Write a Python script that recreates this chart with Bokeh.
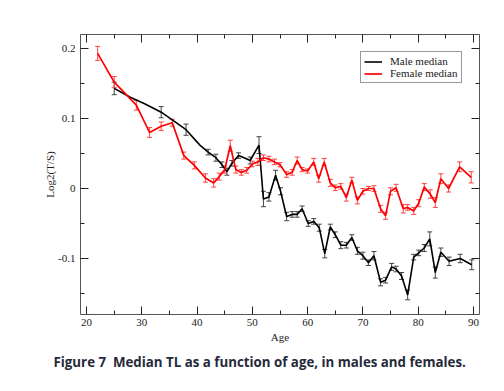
from bokeh.plotting import figure
from bokeh.models import (Range1d, FixedTicker, LinearAxis, CustomJSTickFormatter,
                          ColumnDataSource, Whisker, TeeHead, Legend, LegendItem, Title)
from bokeh.embed import file_html
from bokeh.resources import INLINE

# ---- data ----
male_age = [25, 28, 30.5, 33.5, 35.5, 38, 40.5, 42, 43.4, 44.5, 45.4, 46.3, 47.5, 48.5, 49.6,
            51.2, 52, 53, 54.2, 55.1, 56.2, 57.2, 58.1, 59, 60.1, 61.1, 62.1, 63.1, 64.1, 65,
            66, 67, 68, 69, 70, 71, 72, 73.2, 74.1, 75.2, 76, 77, 78.1, 79.2, 80.1, 81.1, 82.1,
            83.1, 84.1, 85.6, 87.6, 89.7]
male_med = [0.143, 0.130, 0.121, 0.109, 0.098, 0.084, 0.062, 0.052, 0.044, 0.034, 0.024, 0.036,
            0.047, 0.044, 0.040, 0.062, -0.015, -0.012, 0.019, -0.004, -0.040, -0.037, -0.037,
            -0.029, -0.050, -0.047, -0.056, -0.093, -0.055, -0.066, -0.081, -0.081, -0.070,
            -0.089, -0.096, -0.106, -0.096, -0.134, -0.131, -0.112, -0.115, -0.125, -0.152,
            -0.098, -0.092, -0.085, -0.072, -0.120, -0.091, -0.104, -0.100, -0.109]
male_err = [0.009, 0, 0, 0.008, 0, 0.008, 0, 0.004, 0.005, 0.004, 0.005, 0.004, 0.004, 0, 0.005,
            0.012, 0.011, 0.006, 0.007, 0.005, 0.006, 0.004, 0.004, 0.004, 0.004, 0.004, 0.005,
            0.006, 0.004, 0.004, 0.005, 0.004, 0.004, 0.005, 0.005, 0.004, 0.006, 0.005, 0.004,
            0.005, 0.004, 0.005, 0.007, 0.004, 0.004, 0.005, 0.010, 0.008, 0.006, 0.006, 0.006,
            0.007]

female_age = [22, 25, 29, 31.4, 33.5, 35.5, 37.6, 39.5, 41.5, 43, 44, 45, 46, 47, 48, 49, 50,
              51, 52, 53, 54, 55, 56.2, 57.2, 58.1, 59, 60, 61.1, 62, 63, 64.1, 65, 66, 67, 68,
              69, 70, 71, 72, 73.2, 74.1, 75, 76, 77.3, 78.1, 79.2, 80.1, 81.1, 82.2, 83.1, 84.1,
              85.5, 87.5, 89.6]
female_med = [0.193, 0.152, 0.119, 0.080, 0.089, 0.094, 0.047, 0.033, 0.015, 0.008, 0.017, 0.027,
              0.061, 0.027, 0.023, 0.026, 0.035, 0.038, 0.044, 0.042, 0.038, 0.034, 0.020, 0.023,
              0.040, 0.027, 0.025, 0.038, 0.014, 0.038, 0.008, 0.001, 0.003, -0.013, 0.012,
              -0.017, -0.004, 0.0, 0.0, -0.029, -0.039, -0.004, 0.001, -0.029, -0.027, -0.032,
              -0.021, 0.002, -0.008, -0.020, 0.014, 0.0, 0.031, 0.016]
female_err = [0.010, 0.008, 0.007, 0.007, 0.006, 0.005, 0.005, 0.005, 0.006, 0.006, 0.005, 0.005,
              0.008, 0.005, 0.004, 0.004, 0.004, 0.005, 0.004, 0.004, 0.004, 0.003, 0.004, 0.004,
              0.005, 0.003, 0.003, 0.005, 0.005, 0.005, 0.005, 0.004, 0.004, 0.005, 0.004, 0.005,
              0.004, 0.003, 0.004, 0.005, 0.005, 0.005, 0.005, 0.006, 0.004, 0.005, 0.005, 0.005,
              0.006, 0.007, 0.007, 0.005, 0.007, 0.008]

x_major = [20, 30, 40, 50, 60, 70, 80, 90]
x_minor = [25, 35, 45, 55, 65, 75, 85]
y_major = [-0.1, 0, 0.1, 0.2]
y_minor = [-0.15, -0.05, 0.05, 0.15]

x_title = "Age"
y_title = "Log2(T/S)"
caption = "Figure 7\u00a0 Median TL as a function of age, in males and females."
male_label = "Male median"
female_label = "Female median"

SERIF = "'Liberation Serif', 'Times New Roman', serif"

p = figure(width=488, height=375, output_backend="svg", toolbar_location=None,
           x_range=Range1d(18.9, 91.1), y_range=Range1d(-0.18, 0.22),
           x_axis_location=None, y_axis_location=None,
           min_border_left=80, min_border_right=9, min_border_top=34, min_border_bottom=61)
p.grid.visible = False
p.outline_line_color = "#555555"
p.outline_line_width = 1
p.background_fill_color = "white"
p.border_fill_color = "white"

xt = FixedTicker(ticks=x_major, minor_ticks=x_minor)
yt = FixedTicker(ticks=y_major, minor_ticks=y_minor)
yfmt = CustomJSTickFormatter(code="return Math.abs(tick) < 1e-9 ? '0' : tick.toFixed(1);")
blank = CustomJSTickFormatter(code="return '';")


def style(ax):
    ax.axis_line_color = None
    ax.major_tick_in = 8
    ax.major_tick_out = 0
    ax.minor_tick_in = 4
    ax.minor_tick_out = 0
    ax.major_tick_line_color = "#222222"
    ax.minor_tick_line_color = "#222222"
    ax.major_label_text_font = SERIF
    ax.major_label_text_font_size = "11px"
    ax.major_label_text_color = "#222222"
    ax.axis_label_text_font = SERIF
    ax.axis_label_text_font_size = "11px"
    ax.axis_label_text_font_style = "normal"
    ax.axis_label_text_color = "#222222"


xb = LinearAxis(ticker=xt, axis_label=x_title, major_label_standoff=4, axis_label_standoff=2)
style(xb)
p.add_layout(xb, "below")
xa = LinearAxis(ticker=xt, formatter=blank, major_label_standoff=0)
style(xa)
p.add_layout(xa, "above")
yl = LinearAxis(ticker=yt, formatter=yfmt, axis_label=y_title, major_label_standoff=5,
                axis_label_standoff=-1)
style(yl)
p.add_layout(yl, "left")
yr = LinearAxis(ticker=yt, formatter=blank, major_label_standoff=0)
style(yr)
p.add_layout(yr, "right")


def add_series(ages, meds, errs, color, bar_color, width):
    src = ColumnDataSource(dict(x=ages, y=meds))
    r = p.line("x", "y", source=src, line_color=color, line_width=width)
    bx = [a for a, e in zip(ages, errs) if e > 0]
    lo = [m - e for m, e in zip(meds, errs) if e > 0]
    hi = [m + e for m, e in zip(meds, errs) if e > 0]
    esrc = ColumnDataSource(dict(x=bx, lo=lo, hi=hi))
    w = Whisker(source=esrc, base="x", lower="lo", upper="hi", dimension="height",
                line_color=bar_color, line_width=1,
                upper_head=TeeHead(size=5, line_color=bar_color, line_width=1),
                lower_head=TeeHead(size=5, line_color=bar_color, line_width=1))
    p.add_layout(w)
    return r


r_male = add_series(male_age, male_med, male_err, "black", "#444444", 1.6)
r_female = add_series(female_age, female_med, female_err, "#ff0000", "#ff4444", 1.7)

legend = Legend(items=[LegendItem(label=male_label, renderers=[r_male]),
                       LegendItem(label=female_label, renderers=[r_female])],
                location=(280, 231), glyph_width=18, glyph_height=11, label_height=11,
                label_standoff=8, spacing=0, padding=3, margin=0,
                label_text_font=SERIF, label_text_font_size="11px", label_text_color="#222222",
                border_line_color="#333333", border_line_width=1,
                background_fill_color="white", background_fill_alpha=1.0)
p.add_layout(legend, "center")

cap = Title(text=caption, align="left", offset=-27, text_font="Open Sans",
            text_font_style="bold", text_font_size="13.3px", text_color="#262a3a", standoff=10)
p.add_layout(cap, "below")

open("out.html", "w").write(file_html(p, INLINE))
